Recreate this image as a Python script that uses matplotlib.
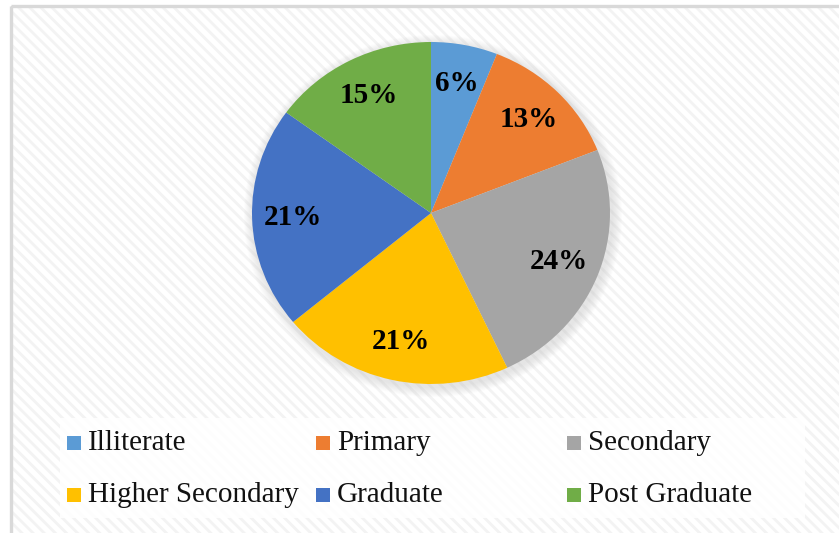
import numpy as np
import matplotlib.pyplot as plt
from matplotlib.patches import Rectangle, Ellipse

labels = ['Illiterate', 'Primary', 'Secondary', 'Higher Secondary', 'Graduate', 'Post Graduate']
shares = [6, 13, 24, 21, 21, 15]
colors = ['#5B9BD5', '#ED7D31', '#A5A5A5', '#FFC000', '#4472C4', '#70AD47']

W, H = 839, 533
plt.rcParams['font.family'] = ['Liberation Serif', 'DejaVu Serif']
plt.rcParams['hatch.linewidth'] = 2.0

fig = plt.figure(figsize=(W / 100, H / 100), dpi=100)
fig.patch.set_facecolor('white')


def fx(px):
    return px / W


def fy(py):
    return 1 - py / H


# hatched chart area with a grey frame on top/left
bg = fig.add_axes([0, 0, 1, 1], zorder=0)
bg.set_xlim(0, W)
bg.set_ylim(H, 0)
bg.axis('off')
bg.add_patch(Rectangle((11, 5.5), W, H, facecolor='white', edgecolor='none'))
bg.add_patch(Rectangle((11, 5.5), W, H, facecolor='none', edgecolor='#f3f3f3',
                       hatch='\\\\\\', linewidth=0))
bg.add_patch(Rectangle((11, 5.5), W, H, facecolor='none', edgecolor='#d9d9d9',
                       linewidth=2.4))

# soft shadow behind the pie
cx, cy, rx, ry = 431, 213, 179, 171
for k in range(10):
    g = 10 - k
    bg.add_patch(Ellipse((cx + 2, cy + 3), 2 * (rx + g), 2 * (ry + g),
                         facecolor='#9a9a9a', edgecolor='none', alpha=0.025))

# legend box
bg.add_patch(Rectangle((60, 418), 745, 100, facecolor='white', edgecolor='none', alpha=0.85))

ax = fig.add_axes([fx(cx - rx), fy(cy + ry), fx(2 * rx), (2 * ry) / H], zorder=2)
wedges, texts, autotexts = ax.pie(shares, colors=colors, startangle=90, counterclock=False,
                                  autopct='%1.0f%%', pctdistance=0.77,
                                  wedgeprops=dict(linewidth=0),
                                  textprops=dict(fontsize=21, fontweight='bold', color='black'))
ax.set_aspect('auto')
ax.set_xlim(-1, 1)
ax.set_ylim(-1, 1)

# legend entries, equal-width columns
col_x = [67, 316, 567]
row_y = [443, 495]
for i, (lab, col) in enumerate(zip(labels, colors)):
    x0 = col_x[i % 3]
    y0 = row_y[i // 3]
    bg.add_patch(Rectangle((x0, y0 - 7.5), 14, 14, facecolor=col, edgecolor='none'))
    bg.text(x0 + 21, y0, lab, fontsize=21, va='center', ha='left', color='#111111')

fig.savefig('out.png', dpi=100)
